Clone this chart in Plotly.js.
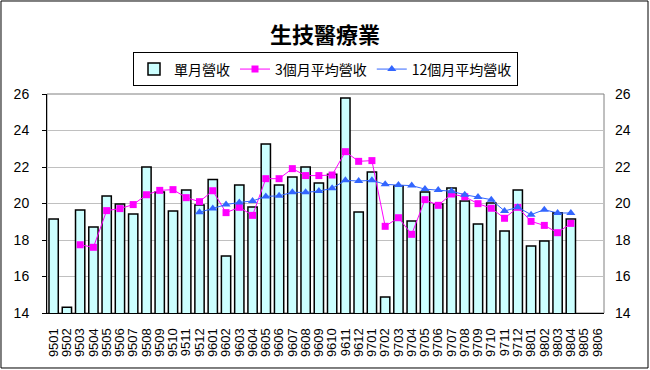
<!DOCTYPE html>
<html><head><meta charset="utf-8">
<script src="https://cdn.plot.ly/plotly-3.0.1.min.js"></script>
<style>body{margin:0;padding:0;background:#fff}#c{width:650px;height:370px}</style>
</head><body><div id="c"></div>
<script>
const months = ['9501','9502','9503','9504','9505','9506','9507','9508','9509','9510','9511','9512',
'9601','9602','9603','9604','9605','9606','9607','9608','9609','9610','9611','9612',
'9701','9702','9703','9704','9705','9706','9707','9708','9709','9710','9711','9712',
'9801','9802','9803','9804','9805','9806'];
const monthly = [19.15,14.31,19.64,18.71,20.41,19.97,19.42,22.0,20.63,19.59,20.74,19.92,
21.31,17.12,21.01,19.81,23.26,21.01,21.45,22.0,21.12,21.6,25.78,19.53,
21.73,14.88,20.96,19.04,20.63,19.97,20.85,20.14,18.88,20.03,18.49,20.74,
17.67,17.95,19.5,19.15,null,null];
const avg3 = [null,null,17.74,17.6,19.61,19.72,19.94,20.48,20.72,20.76,20.32,20.1,
20.7,19.5,19.79,19.35,21.36,21.36,21.91,21.53,21.53,21.56,22.84,22.31,
22.35,18.75,19.22,18.31,20.21,19.9,20.52,20.37,19.99,19.74,19.19,19.79,
19.02,18.8,18.4,18.91,null,null];
const avg12 = [null,null,null,null,null,null,null,null,null,null,null,19.52,
19.73,19.94,20.06,20.14,20.39,20.42,20.61,20.61,20.68,20.83,21.27,21.23,
21.27,21.05,21.01,20.98,20.79,20.74,20.67,20.48,20.36,20.21,19.59,19.79,
19.39,19.66,19.48,19.48,null,null];
const yTicks = [14,16,18,20,22,24,26];

const tickFont = {family:'Liberation Sans, Arial, sans-serif', size:14, color:'#000'};
const traces = [
 {type:'bar', name:'單月營收', x:months, y:monthly,
  marker:{color:'#CCFFFF', line:{color:'#000', width:1.5}}},
 {type:'scatter', mode:'lines+markers', name:'3個月平均營收', x:months, y:avg3,
  line:{color:'#FF00FF', width:1}, marker:{symbol:'square', size:7, color:'#FF00FF'}},
 {type:'scatter', mode:'lines+markers', name:'12個月平均營收', x:months, y:avg12, yaxis:'y2',
  line:{color:'#3366FF', width:1}, marker:{symbol:'triangle-up', size:8, color:'#3366FF'}}
];
const layout = {
 width:650, height:370,
 margin:{l:47, r:46, t:94, b:57},
 paper_bgcolor:'#fff', plot_bgcolor:'#fff',
 bargap:0.3,
 showlegend:true,
 title:{text:'<b>生技醫療業</b>', x:0.5, xanchor:'center', y:0.905, yanchor:'middle',
   font:{family:'Noto Sans CJK TC, sans-serif', size:22, color:'#000'}},
 legend:{orientation:'h', x:0.5, xanchor:'center', y:1.112, yanchor:'middle',
   bordercolor:'#000', borderwidth:1, bgcolor:'#fff',
   font:{family:'Noto Sans CJK TC, sans-serif', size:14, color:'#000'},
   itemwidth:30, traceorder:'normal'},
 xaxis:{type:'category', range:[-0.5, months.length-0.5], tickmode:'array', tickvals:months, ticktext:months,
   tickangle:-90, tickfont:{family:'Liberation Sans, Arial, sans-serif', size:13, color:'#000'},
   showline:true, linecolor:'#000', linewidth:1, ticks:'', showgrid:false, fixedrange:true, ticklabelstandoff:9},
 yaxis:{range:[14,26], tickvals:yTicks, ticks:'outside', ticklen:4, tickcolor:'#000', tickfont:tickFont,
   showgrid:true, gridcolor:'#C0C0C0', gridwidth:1, showline:true, linecolor:'#000', linewidth:1,
   zeroline:false, ticklabelstandoff:10},
 yaxis2:{range:[14,26], tickvals:yTicks, overlaying:'y', side:'right', ticks:'', tickfont:tickFont,
   showgrid:false, showline:false, zeroline:false, ticklabelstandoff:10},
 shapes:[
  {type:'rect', xref:'paper', yref:'paper', x0:0, x1:1, y0:0, y1:1, line:{color:'#808080', width:1}, layer:'below'},
  {type:'rect', xref:'paper', yref:'paper', x0:-0.0826, x1:1.0790, y0:-0.2511, y1:1.4247, line:{color:'#000', width:1}}
 ]
};
Plotly.newPlot('c', traces, layout, {displayModeBar:false, staticPlot:true});
</script></body></html>
